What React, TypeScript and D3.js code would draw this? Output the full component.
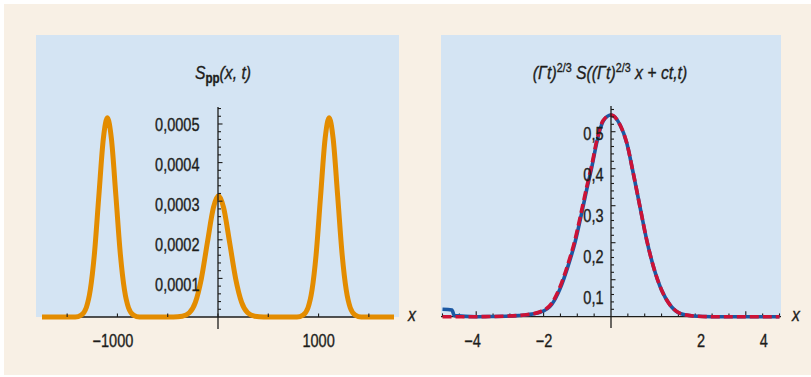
import React from "react";
import * as d3 from "d3";

// left panel: S_pp(x,t) (x in lattice units)
const leftX = [-1750, -1500, -1420, -1360, -1310, -1270, -1230, -1185, -1140, -1100, -1060, -1015, -970, -930, -890, -840, -780, -600, -445, -355, -285, -225, -165, -105, -45, 5, 55, 115, 175, 235, 295, 365, 455, 600, 785, 845, 895, 935, 975, 1020, 1065, 1105, 1145, 1190, 1235, 1275, 1315, 1365, 1425, 1500, 1750];
const leftS = [0, 0, 0, 0.000005, 0.000024, 0.00007, 0.00016, 0.000313, 0.000462, 0.000516, 0.000462, 0.000313, 0.00016, 0.00007, 0.000024, 0.000005, 0, 0, 0, 0.000002, 0.000011, 0.000038, 0.0001, 0.000194, 0.000284, 0.000314, 0.000284, 0.000194, 0.0001, 0.000038, 0.000011, 0.000002, 0, 0, 0, 0.000005, 0.000024, 0.00007, 0.00016, 0.000313, 0.000462, 0.000516, 0.000462, 0.000313, 0.00016, 0.00007, 0.000024, 0.000005, 0, 0, 0];
const leftXTicks = [-1000, 1000];
const leftYTicks = [0.0001, 0.0002, 0.0003, 0.0004, 0.0005];

// right panel: scaled profile, theory (dashed) and simulation (solid)
const rightX = [-5, -4, -3.6, -3, -2.6, -2.1, -1.76, -1.51, -1.27, -1.07, -0.87, -0.72, -0.57, -0.42, -0.23, 0, 0.27, 0.47, 0.66, 0.86, 1.06, 1.26, 1.5, 1.75, 2.05, 2.44, 3, 4, 5];
const theory = [0, 0, 0.0005, 0.002, 0.0045, 0.0135, 0.036, 0.081, 0.144, 0.207, 0.288, 0.351, 0.41, 0.477, 0.531, 0.545, 0.518, 0.469, 0.388, 0.297, 0.207, 0.135, 0.072, 0.032, 0.009, 0.002, 0, 0, 0];
const simX = [-5, -4.72, -4.65, -4, -3.6, -3, -2.6, -2.1, -1.76, -1.51, -1.27, -1.07, -0.87, -0.72, -0.57, -0.42, -0.23, 0, 0.27, 0.47, 0.66, 0.86, 1.06, 1.26, 1.5, 1.75, 2.05, 2.44, 3, 4, 5];
const simS = [0.02, 0.018, 0.003, 0, 0.0005, 0.002, 0.004, 0.012, 0.033, 0.076, 0.138, 0.2, 0.28, 0.344, 0.404, 0.472, 0.529, 0.545, 0.518, 0.469, 0.388, 0.297, 0.207, 0.135, 0.072, 0.032, 0.009, 0.002, 0, 0, 0];
const rightXTicks = [-4, -2, 2, 4];
const rightYTicks = [0.1, 0.2, 0.3, 0.4, 0.5];

const font = "'Liberation Sans', Arimo, sans-serif";
const ink = "#1d1d1b";
const SX = 0.83; // squeeze the text horizontally, the print uses a condensed face
const fmt = (v: number) => String(v).replace(".", ",").replace("-", "\u2212");

function CText(props: { x: number; y: number; anchor?: string; size?: number; italic?: boolean; children: React.ReactNode }) {
  const { x, y, anchor = "start", size = 17.5, italic = false, children } = props;
  return (
    <text transform={`translate(${x},${y}) scale(${SX},1)`} textAnchor={anchor} fontSize={size}
      fontStyle={italic ? "italic" : "normal"} fill={ink} stroke={ink} strokeWidth={0.35}>
      {children}
    </text>
  );
}

export default function App() {
  // left scales
  const lx = d3.scaleLinear().domain([-1750, 1750]).range([42, 394]);
  const ly = d3.scaleLinear().domain([0, 0.000544]).range([317, 107]);
  const lyLab = d3.scaleLinear().domain([0.0001, 0.0005]).range([285, 124.5]);
  const leftLine = d3.line<number>().x((d, i) => lx(leftX[i])).y((d) => ly(d)).curve(d3.curveMonotoneX);

  // right scales
  const rx = d3.scaleLinear().domain([-5, 5]).range([442.5, 779.5]);
  const ry = d3.scaleLinear().domain([0, 0.57]).range([316.7, 105.8]);
  // the printed labels do not sit exactly on their ticks
  const rxLab = d3.scaleLinear().domain([-4, -2, 2, 4]).range([472.5, 544, 701, 763.7]);
  const ryLab = d3.scaleLinear().domain([0.1, 0.5]).range([297.5, 133.7]);
  const theoryLine = d3.line<number>().x((d, i) => rx(rightX[i])).y((d) => ry(d)).curve(d3.curveMonotoneX);
  const simLine = d3.line<number>().x((d, i) => rx(simX[i])).y((d) => ry(d)).curve(d3.curveMonotoneX);

  const lx0 = lx(0), rx0 = rx(0);

  return (
    <svg width={811} height={377} style={{ position: "absolute", left: 0, top: 0 }} fontFamily={font}>
      <rect x={0} y={0} width={811} height={377} fill="#ffffff" />
      <rect x={4} y={4} width={807} height={371} fill="#f8f0e5" />

      {/* left panel */}
      <rect x={36} y={35} width={363} height={282} fill="#d4e4f3" />
      <line x1={42} x2={394} y1={317} y2={317} stroke={ink} strokeWidth={1.3} />
      <path d={leftLine(leftS) || ""} fill="none" stroke="#e38c00" strokeWidth={5} strokeLinejoin="round" />
      {lx.ticks(7).map((t) => (
        <line key={"lxt" + t} x1={lx(t)} x2={lx(t)} y1={317} y2={313.5} stroke={ink} strokeWidth={1.1} />
      ))}
      <line x1={lx0} x2={lx0} y1={107} y2={329} stroke={ink} strokeWidth={1.3} />
      {ly.ticks(27).filter((t) => t > 0).map((t) => {
        const major = leftYTicks.some((m) => Math.abs(m - t) < 1e-9);
        return <line key={"lyt" + t} x1={lx0} x2={lx0 + (major ? 4.5 : 3)} y1={ly(t)} y2={ly(t)} stroke={ink} strokeWidth={1.1} />;
      })}
      {leftYTicks.map((t) => (
        <CText key={"lyl" + t} x={199.5} y={lyLab(t) + 6.2} anchor="end">{fmt(t)}</CText>
      ))}
      {leftXTicks.map((t) => (
        <CText key={"lxl" + t} x={lx(t) - (t < 0 ? 4.5 : 0)} y={346.5} anchor="middle">{fmt(t)}</CText>
      ))}
      <CText x={408} y={321} size={19} italic>x</CText>
      <CText x={223} y={79} anchor="middle" size={19}>
        <tspan fontStyle="italic">S</tspan>
        <tspan fontSize={14} fontWeight="bold" dy={4}>pp</tspan>
        <tspan fontStyle="italic" dy={-4}>(x, t)</tspan>
      </CText>

      {/* right panel */}
      <rect x={441} y={35} width={340} height={282} fill="#d4e4f3" />
      <line x1={441} x2={781} y1={316.7} y2={316.7} stroke={ink} strokeWidth={1.3} />
      {rx.ticks(20).filter((t) => t !== 0).map((t) => {
        const major = t % 2 === 0;
        return <line key={"rxt" + t} x1={rx(t)} x2={rx(t)} y1={316.7} y2={316.7 - (major ? 5.5 : 3.3)} stroke={ink} strokeWidth={1.1} />;
      })}
      <path d={simLine(simS) || ""} fill="none" stroke="#1b58a3" strokeWidth={3.6} strokeLinejoin="round" />
      <path d={theoryLine(theory) || ""} fill="none" stroke="#cc1236" strokeWidth={3.6} strokeDasharray="9 4" />
      <line x1={rx0} x2={rx0} y1={106} y2={328} stroke={ink} strokeWidth={1.3} />
      {ry.ticks(28).filter((t) => t > 0).map((t) => {
        const major = rightYTicks.some((m) => Math.abs(m - t) < 1e-9);
        return <line key={"ryt" + t} x1={rx0} x2={rx0 + (major ? 4.5 : 3)} y1={ry(t)} y2={ry(t)} stroke={ink} strokeWidth={1.1} />;
      })}
      {rightYTicks.map((t) => (
        <CText key={"ryl" + t} x={603.5} y={ryLab(t) + 6.2} anchor="end">{fmt(t)}</CText>
      ))}
      {rightXTicks.map((t) => (
        <CText key={"rxl" + t} x={rxLab(t)} y={346.5} anchor="middle">{fmt(t)}</CText>
      ))}
      <CText x={792} y={321} size={19} italic>x</CText>
      <CText x={610} y={79} anchor="middle" size={19}>
        <tspan fontStyle="italic">({"\u0393"}t)</tspan>
        <tspan fontSize={13} dy={-7}>2/3</tspan>
        <tspan fontStyle="italic" dy={7}> S(({"\u0393"}t)</tspan>
        <tspan fontSize={13} dy={-7}>2/3</tspan>
        <tspan fontStyle="italic" dy={7}> x + ct,t)</tspan>
      </CText>
    </svg>
  );
}
